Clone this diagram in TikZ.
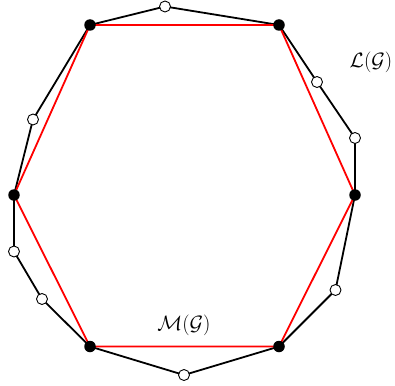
\documentclass[tikz,border=0pt]{standalone}
\begin{document}
\begin{tikzpicture}[x=1pt,y=-1pt,
  edge/.style={line width=1.8pt,black},
  redge/.style={line width=1.8pt,red},
  bdot/.style={circle,fill=black,inner sep=0pt,minimum size=11.5pt},
  wdot/.style={circle,draw=black,fill=white,line width=0.9pt,inner sep=0pt,minimum size=11pt},
  lbl/.style={font=\fontsize{22.5}{26}\selectfont,inner sep=0pt}]
\useasboundingbox (0,0) rectangle (395,385);
% black vertices
\coordinate (a) at (90,25);
\coordinate (b) at (279,25);
\coordinate (c) at (355,195);
\coordinate (d) at (279,346.5);
\coordinate (e) at (90,346.5);
\coordinate (f) at (14,195);
% white vertices
\coordinate (w1) at (165,6.5);
\coordinate (w2) at (317,82);
\coordinate (w3) at (355,138);
\coordinate (w4) at (335.5,290);
\coordinate (w5) at (184,375);
\coordinate (w6) at (42,299);
\coordinate (w7) at (14,251.5);
\coordinate (w8) at (33,119.5);
\draw[edge,line join=round] (a) -- (w1) -- (b) -- (w2) -- (w3) -- (c) -- (w4) -- (d) -- (w5) -- (e) -- (w6) -- (w7) -- (f) -- (w8) -- cycle;
\draw[redge,line join=round] (a) -- (b) -- (c) -- (d) -- (e) -- (f) -- cycle;
\foreach \p in {a,b,c,d,e,f} \node[bdot] (n\p) at (\p) {};
\foreach \p in {w1,w2,w3,w4,w5,w6,w7,w8} \node[wdot] (n\p) at (\p) {};
\node[lbl] (L) at (371,62) {$\mathcal{L}(\mathcal{G})$};
\node[lbl] (M) at (184,325) {$\mathcal{M}(\mathcal{G})$};
\end{tikzpicture}
\end{document}
